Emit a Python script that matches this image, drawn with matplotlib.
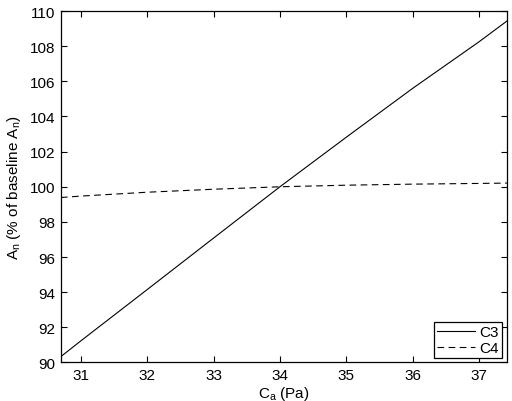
import matplotlib
matplotlib.use("Agg")
import matplotlib.pyplot as plt

ca = [30.7, 31, 32, 33, 34, 35, 36, 37, 37.42]
c3 = [90.34, 91.23, 94.15, 97.08, 100.0, 102.82, 105.6, 108.25, 109.43]
c4 = [99.39, 99.47, 99.69, 99.86, 100.0, 100.09, 100.15, 100.19, 100.21]
xticks = [31, 32, 33, 34, 35, 36, 37]
yticks = list(range(90, 111, 2))

plt.rcParams['font.family'] = ['Liberation Sans', 'DejaVu Sans']
plt.rcParams['mathtext.fontset'] = 'custom'
plt.rcParams['mathtext.rm'] = 'Liberation Sans'
plt.rcParams['mathtext.it'] = 'Liberation Sans'

fig = plt.figure(figsize=(5.12, 4.02), dpi=100)
ax = fig.add_axes([0.119, 0.0958, 0.871, 0.8742])
ax.plot(ca, c3, color='black', lw=0.8, label='C3')
ax.plot(ca, c4, color='black', lw=0.8, ls=(0, (6, 4)), label='C4')
ax.set_xlim(30.7, 37.42)
ax.set_ylim(90, 110)
ax.set_xticks(xticks)
ax.set_yticks(yticks)
ax.tick_params(direction='in', top=True, right=True, labelsize=11, length=4, width=0.8, pad=4)
for s in ax.spines.values():
    s.set_linewidth(0.9)
ax.set_xlabel(r'C$_\mathrm{a}$ (Pa)', fontsize=11, labelpad=1.5)
ax.set_ylabel(r'A$_\mathrm{n}$ (% of baseline A$_\mathrm{n}$)', fontsize=11, labelpad=5)
leg = ax.legend(loc='lower right', fontsize=11, frameon=True, fancybox=False,
                edgecolor='black', framealpha=1, handlelength=2.5,
                borderaxespad=0.3, borderpad=0.2, handletextpad=0.3, labelspacing=0.1)
leg.get_frame().set_linewidth(0.9)
fig.savefig('out.png', dpi=100)
